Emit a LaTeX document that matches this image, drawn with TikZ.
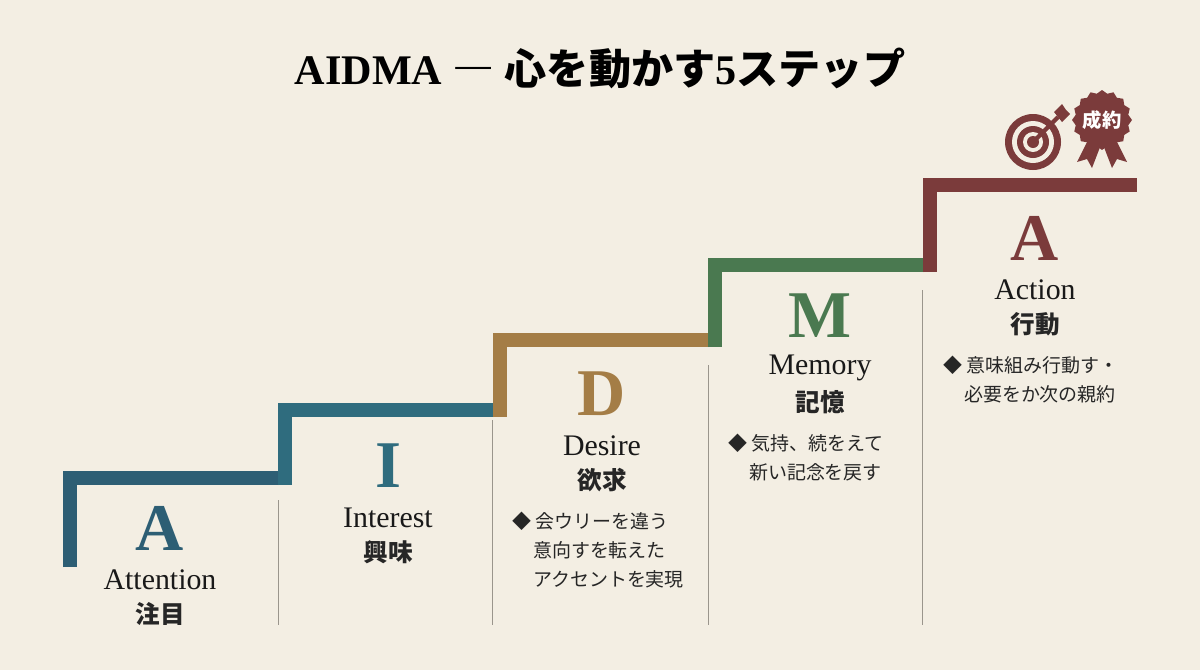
\documentclass[tikz,border=0pt]{standalone}
\usepackage{fontspec}
\setmainfont{Liberation Serif}
\newfontfamily\cjk{Noto Sans CJK JP}
\usetikzlibrary{shapes.geometric, positioning, arrows.meta}
\definecolor{PaperBg}{HTML}{F3EEE3}
\definecolor{StepA}{HTML}{2D5E74}
\definecolor{StepI}{HTML}{2F6C7E}
\definecolor{StepD}{HTML}{A47D46}
\definecolor{StepM}{HTML}{4A7950}
\definecolor{StepAct}{HTML}{7B3B3B}
\definecolor{DivGray}{HTML}{9A958C}
\tikzset{
  stair/.style={line width=0.28cm, line cap=butt, line join=miter},
  letter/.style={font=\fontsize{38}{38}\selectfont\bfseries},
  word/.style={font=\fontsize{17}{17}\selectfont, text=black!90},
  jword/.style={font=\cjk\fontsize{14}{15}\selectfont\bfseries, text=black!85},
  bullet/.style={font=\cjk\fontsize{10.8}{16.5}\selectfont, text=black!85, align=left, anchor=north west},
  divider/.style={DivGray, line width=0.5pt}
}
\begin{document}
\begin{tikzpicture}[x=0.02cm, y=-0.02cm]
  \fill[PaperBg] (0,0) rectangle (1200,670);
  \useasboundingbox (0,0) rectangle (1200,670);

  % Title
  \node[font=\fontsize{24}{24}\selectfont\bfseries] (title) at (600,68)
    {AIDMA {\cjk ― 心を動かす}5{\cjk ステップ}};

  % Stairs
  \coordinate (s0) at (70,567);
  \draw[stair, StepA] (s0) |- (285,478);
  \draw[stair, StepI] (285,485) |- (500,410);
  \draw[stair, StepD] (500,417) |- (715,340);
  \draw[stair, StepM] (715,347) |- (930,265);
  \draw[stair, StepAct] (930,272) |- (1137,185);

  % Dividers
  \foreach \x/\top in {278/500, 492/420, 708/365, 922/290} {
    \draw[divider] (\x,\top) -- (\x,625);
  }

  % Step labels
  \foreach \n/\x/\y/\l/\w/\j/\col in {a/160/528/A/Attention/注目/StepA, i/388/466/I/Interest/興味/StepI, d/602/394/D/Desire/欲求/StepD, m/820/316/M/Memory/記憶/StepM, act/1035/238/A/Action/行動/StepAct} {
    \node[letter, text=\col] (\n-letter) at (\x,\y) {\l};
    \node[word] (\n-word) at (\x,\y+52) {\w};
    \node[jword] (\n-jp) at (\x,\y+86) {\j};
  }

  % Bullet notes
  \node[bullet] (d-note) at (506,506) {◆ 会ウリーを違う\\\hspace{1.1em}意向すを転えた\\\hspace{1.1em}アクセントを実現};
  \node[bullet] (m-note) at (722,428) {◆ 気持、続をえて\\\hspace{1.1em}新い記念を戻す};
  \node[bullet] (act-note) at (937,350) {◆ 意味組み行動す・\\\hspace{1.1em}必要をか次の親約};

  % Target icon
  \coordinate (target) at (1033,142);
  \fill[StepAct] (target) circle (28);
  \fill[PaperBg] (target) circle (21);
  \fill[StepAct] (target) circle (16);
  \fill[PaperBg] (target) circle (10);
  \fill[StepAct] (target) circle (6);
  \draw[StepAct, line width=2.4pt] (target) -- ++(25,-25);
  \fill[StepAct] (1054,112) -- (1062,104) -- (1066,110) -- (1070,114) -- (1062,122) -- cycle;

  % Badge icon
  \coordinate (badge) at (1102,120);
  \fill[StepAct] (1090,136) -- (1077,162) -- (1087,159) -- (1092,168) -- (1102,142) -- cycle;
  \fill[StepAct] (1114,136) -- (1127,162) -- (1117,159) -- (1112,168) -- (1102,142) -- cycle;
  \node[star, star points=16, star point ratio=1.12, fill=StepAct, minimum size=1.2cm, inner sep=0pt] (seal) at (badge) {};
  \node[font=\cjk\fontsize{11}{11}\selectfont\bfseries, text=white] at (badge) {成約};
\end{tikzpicture}
\end{document}
